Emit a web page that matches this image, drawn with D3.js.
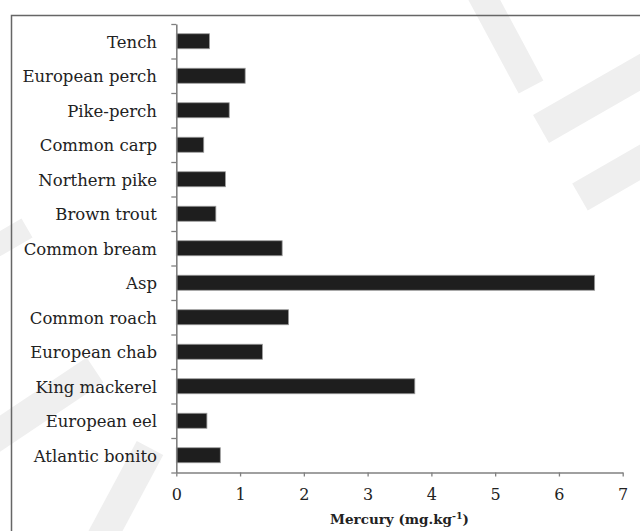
<!DOCTYPE html>
<html>
<head>
<meta charset="utf-8">
<script src="https://cdn.jsdelivr.net/npm/d3@7"></script>
<style>
  html, body { margin: 0; padding: 0; background: #ffffff; }
  svg { display: block; }
</style>
</head>
<body>
<svg id="chart" width="640" height="531"></svg>
<script>
// ---- data ----
const categories = [
  "Tench", "European perch", "Pike-perch", "Common carp", "Northern pike",
  "Brown trout", "Common bream", "Asp", "Common roach", "European chab",
  "King mackerel", "European eel", "Atlantic bonito"
];
const mercury = [0.52, 1.08, 0.83, 0.43, 0.77, 0.62, 1.66, 6.56, 1.76, 1.35, 3.74, 0.48, 0.69];
const xTicks = [0, 1, 2, 3, 4, 5, 6, 7];
const xTitle = "Mercury (mg.kg";
const xTitleSup = "-1";

// ---- decorative watermark stripes (background, not data) ----
const watermark = [
  { x1: 480, y1: -8, x2: 531, y2: 87, w: 28 },
  { x1: 541, y1: 129, x2: 670, y2: 55, w: 32 },
  { x1: 580, y1: 197, x2: 670, y2: 145, w: 31 },
  { x1: 27, y1: 228, x2: -30, y2: 261, w: 22 },
  { x1: 95, y1: 370, x2: -20, y2: 447, w: 30 },
  { x1: 150, y1: 448, x2: 98, y2: 545, w: 30 }
];

const svg = d3.select("#chart");

svg.append("g").selectAll("line").data(watermark).join("line")
  .attr("x1", d => d.x1).attr("y1", d => d.y1)
  .attr("x2", d => d.x2).attr("y2", d => d.y2)
  .attr("stroke", "#efefef").attr("stroke-width", d => d.w)
  .attr("stroke-linecap", "butt");

// frame (top and left border of the figure box)
svg.append("path")
  .attr("d", "M11.5,531 L11.5,15.5 L640,15.5")
  .attr("fill", "none").attr("stroke", "#666").attr("stroke-width", 1.5);

// ---- scales ----
const plot = { left: 176.3, right: 622.7, top: 24, bottom: 472.5 };
const x = d3.scaleLinear().domain([0, 7]).range([plot.left, plot.right]);
const barPad = 0.565;
const y = d3.scaleBand().domain(categories).range([plot.top, plot.bottom])
  .paddingInner(barPad).paddingOuter(barPad / 2);
const yEdge = d3.scaleLinear().domain([0, categories.length]).range([plot.top, plot.bottom]);

// ---- bars ----
svg.append("g").selectAll("rect").data(categories).join("rect")
  .attr("x", x(0))
  .attr("y", d => y(d))
  .attr("width", (d, i) => x(mercury[i]) - x(0))
  .attr("height", y.bandwidth())
  .attr("fill", "#1e1e1e")
  .attr("stroke", "#9a9a9a")
  .attr("stroke-width", 0.8);

// ---- y axis ----
const yAxis = svg.append("g")
  .attr("transform", `translate(${plot.left},0)`)
  .call(d3.axisLeft(yEdge).tickValues(d3.range(categories.length + 1)).tickFormat("").tickSize(5).tickSizeOuter(0));
yAxis.select(".domain").attr("stroke", "#808080").attr("stroke-width", 1.6);
yAxis.selectAll(".tick line").attr("stroke", "#808080").attr("stroke-width", 1.3);

// category labels
svg.append("g").selectAll("text").data(categories).join("text")
  .attr("x", 157)
  .attr("y", d => y(d) + y.bandwidth() / 2)
  .attr("dy", "0.40em")
  .attr("text-anchor", "end")
  .attr("font-family", "'DejaVu Serif', serif")
  .attr("font-size", 16.5)
  .attr("fill", "#222")
  .text(d => d);

// ---- x axis ----
const xAxis = svg.append("g")
  .attr("transform", `translate(0,${plot.bottom})`)
  .call(d3.axisBottom(x).tickValues(xTicks).tickFormat(d3.format("d")).tickSize(4).tickSizeOuter(0).tickPadding(12));
xAxis.select(".domain").attr("stroke", "#808080").attr("stroke-width", 1.6);
xAxis.selectAll(".tick line").attr("stroke", "#808080").attr("stroke-width", 1.3);
xAxis.selectAll(".tick text")
  .attr("font-family", "'DejaVu Serif', serif")
  .attr("font-size", 16)
  .attr("fill", "#222");

// x axis title
const title = svg.append("text")
  .attr("x", (plot.left + plot.right) / 2)
  .attr("y", 524)
  .attr("text-anchor", "middle")
  .attr("font-family", "'DejaVu Serif', serif")
  .attr("font-weight", "bold")
  .attr("font-size", 13.5)
  .attr("fill", "#222");
title.append("tspan").text(xTitle);
title.append("tspan").attr("dy", -5).attr("font-size", 9.5).text(xTitleSup);
title.append("tspan").attr("dy", 5).text(")");
</script>
</body>
</html>
